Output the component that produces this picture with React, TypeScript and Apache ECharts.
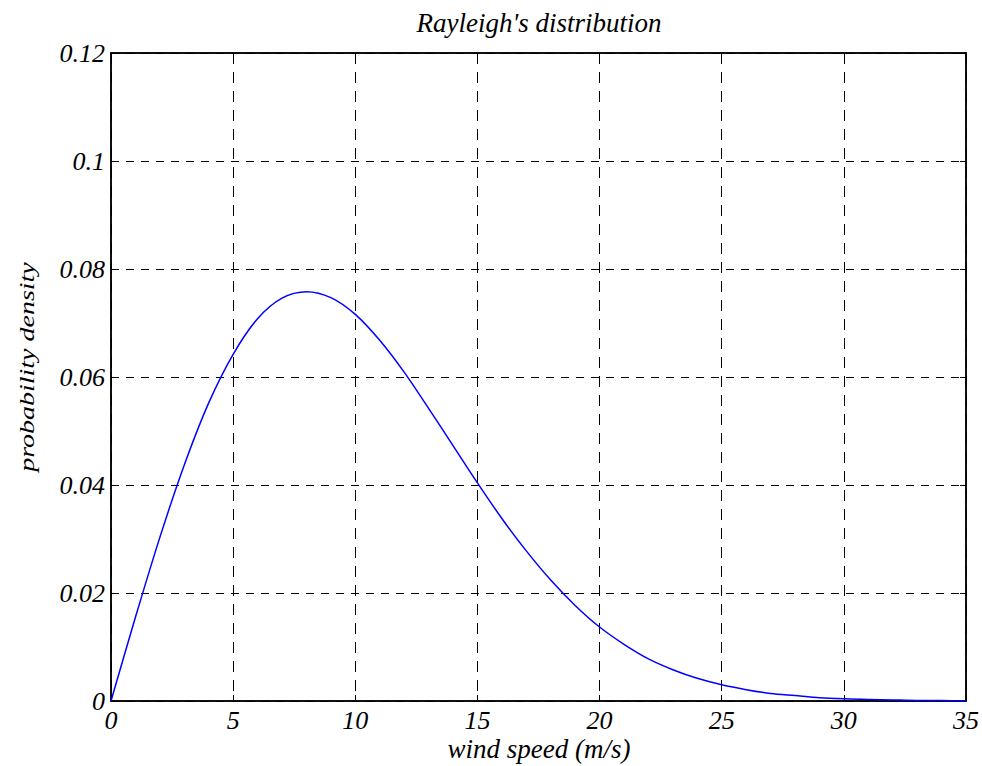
import React, { useEffect, useRef } from "react";
import * as echarts from "echarts";

const windSpeed = [0, 1, 2, 3, 4, 5, 6, 7, 8, 9, 10, 11, 12, 13, 14, 15, 16, 17, 18, 19, 20, 21, 22, 23, 24, 25, 26, 27, 28, 29, 30, 31, 32, 33, 34, 35];
const density = [0, 0.0155, 0.0303, 0.0437, 0.0552, 0.0642, 0.0708, 0.0746, 0.0758, 0.0747, 0.0716, 0.0668, 0.0609, 0.0542, 0.0473, 0.0404, 0.0338, 0.0278, 0.0224, 0.0177, 0.0137, 0.0105, 0.0078, 0.0058, 0.0042, 0.003, 0.0021, 0.0014, 0.001, 0.0006, 0.0004, 0.0003, 0.0002, 0.0001, 0.0001, 0];

const titleText = "Rayleigh's distribution";
const xName = "wind speed (m/s)";
const yName = "probability density";

const FONT = '"Liberation Serif", "Times New Roman", serif';

export default function App() {
  const ref = useRef<HTMLDivElement>(null);
  useEffect(() => {
    document.body.style.margin = "0";
    const chart = echarts.init(ref.current!, null, { renderer: "svg" });
    const tickStyle = { show: true, inside: true, length: 6, lineStyle: { color: "#000", width: 1 } };
    const axisLine = { show: true, onZero: false, lineStyle: { color: "#000", width: 1.5 } };
    chart.setOption({
      animation: false,
      backgroundColor: "#fff",
      grid: { left: 111, top: 53, right: 15, bottom: 65, show: true, borderColor: "#000", borderWidth: 1.5, backgroundColor: "transparent" },
      graphic: [
        { type: "text", x: 539, y: 23, style: { text: titleText, fontFamily: FONT, fontStyle: "italic", fontSize: 27, fill: "#000", align: "center", verticalAlign: "middle" } },
        { type: "text", x: 539, y: 749, style: { text: xName, fontFamily: FONT, fontStyle: "italic", fontSize: 27, fill: "#000", align: "center", verticalAlign: "middle" } },
        { type: "text", x: 27, y: 367, rotation: Math.PI / 2, scaleY: 0.72, style: { text: yName, fontFamily: FONT, fontStyle: "italic", fontSize: 28, fill: "#000", align: "center", verticalAlign: "middle" } },
      ],
      xAxis: [
        {
          type: "value", min: 0, max: 35, interval: 5, position: "bottom",
          axisLine, axisTick: tickStyle,
          axisLabel: { margin: 6, fontFamily: FONT, fontStyle: "italic", fontSize: 26, color: "#000" },
          splitLine: { show: true, lineStyle: { color: "#000", width: 1, type: [11, 8] } },
        },
        {
          type: "value", min: 0, max: 35, interval: 5, position: "top",
          axisLine, axisTick: tickStyle, axisLabel: { show: false }, splitLine: { show: false },
        },
      ],
      yAxis: [
        {
          type: "value", min: 0, max: 0.12, interval: 0.02, position: "left",
          axisLine, axisTick: tickStyle,
          axisLabel: { margin: 6, fontFamily: FONT, fontStyle: "italic", fontSize: 26, color: "#000", formatter: (v: number) => String(+v.toFixed(2)) },
          splitLine: { show: true, lineStyle: { color: "#000", width: 1, type: [8, 7] } },
        },
        {
          type: "value", min: 0, max: 0.12, interval: 0.02, position: "right",
          axisLine, axisTick: tickStyle, axisLabel: { show: false }, splitLine: { show: false },
        },
      ],
      series: [
        {
          type: "line",
          data: windSpeed.map((x, i) => [x, density[i]]),
          showSymbol: false,
          smooth: 0.3,
          lineStyle: { color: "#0000ff", width: 1.5 },
          xAxisIndex: 0,
          yAxisIndex: 0,
        },
      ],
    });
    return () => chart.dispose();
  }, []);
  return <div ref={ref} style={{ width: 982, height: 766 }} />;
}
